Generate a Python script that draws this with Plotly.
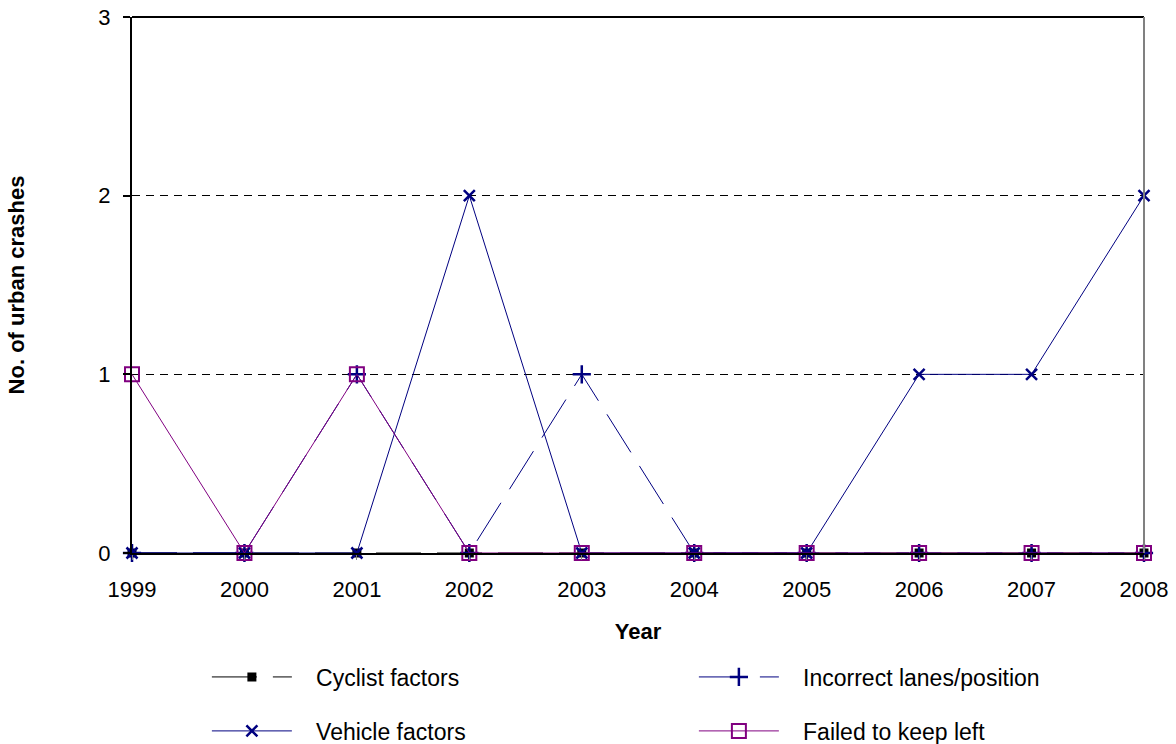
import plotly.graph_objects as go

years = [1999, 2000, 2001, 2002, 2003, 2004, 2005, 2006, 2007, 2008]
cyclist_factors = [0, 0, 0, 0, 0, 0, 0, 0, 0, 0]
incorrect_lanes = [0, 0, 1, 0, 1, 0, 0, 0, 0, 0]
vehicle_factors = [0, 0, 0, 2, 0, 0, 0, 1, 1, 2]
failed_keep_left = [1, 0, 1, 0, 0, 0, 0, 0, 0, 0]
y_ticks = [0, 1, 2, 3]

NAVY = "#000080"
PURPLE = "#800080"
FONT = "Liberation Sans, Arial, sans-serif"
PAD = "\u00a0\u00a0\u00a0"
DASH = "45px,16px"

fig = go.Figure()
fig.add_trace(go.Scatter(
    x=years, y=cyclist_factors, name=PAD + "Cyclist factors", mode="lines+markers",
    line=dict(color="black", width=1, dash=DASH),
    marker=dict(symbol="square", size=9, color="black"), cliponaxis=False,
    legend="legend"))
fig.add_trace(go.Scatter(
    x=years, y=incorrect_lanes, name=PAD + "Incorrect lanes/position", mode="lines+markers",
    line=dict(color=NAVY, width=1, dash=DASH),
    marker=dict(symbol="cross-thin-open", size=13, line=dict(color=NAVY, width=2.5)),
    cliponaxis=False, legend="legend"))
fig.add_trace(go.Scatter(
    x=years, y=vehicle_factors, name=PAD + "Vehicle factors", mode="lines+markers",
    line=dict(color=NAVY, width=1),
    marker=dict(symbol="x-thin-open", size=11, line=dict(color=NAVY, width=2.5)),
    cliponaxis=False, legend="legend2"))
fig.add_trace(go.Scatter(
    x=years, y=failed_keep_left, name=PAD + "Failed to keep left", mode="lines+markers",
    line=dict(color=PURPLE, width=1),
    marker=dict(symbol="square-open", size=14, line=dict(color=PURPLE, width=2)),
    cliponaxis=False, legend="legend2"))

legend_common = dict(
    orientation="h", x=0.074, xanchor="left", yanchor="middle",
    entrywidth=392, entrywidthmode="pixels", itemwidth=80,
    font=dict(family=FONT, size=23, color="black"),
    traceorder="normal", bgcolor="rgba(0,0,0,0)",
)

fig.update_layout(
    width=1176, height=744,
    margin=dict(l=132, r=32, t=17, b=191, autoexpand=False),
    paper_bgcolor="white", plot_bgcolor="white",
    font=dict(family=FONT, size=22, color="black"),
    showlegend=True,
    legend=dict(legend_common, y=-0.2313),
    legend2=dict(legend_common, y=-0.332),
    xaxis=dict(
        range=[1999, 2008], tickvals=years, ticktext=[str(y) for y in years],
        showgrid=False, zeroline=False, showline=True, linecolor="black", linewidth=2,
        ticks="outside", ticklen=5, tickcolor="#808080", tickwidth=1,
        ticklabelstandoff=11, automargin=False, ticklabeloverflow="allow",
        tickfont=dict(size=22),
        title=dict(text="<b>Year</b>", font=dict(size=22), standoff=22),
    ),
    yaxis=dict(
        range=[0, 3], tickvals=y_ticks,
        showgrid=True, gridcolor="black", gridwidth=1, griddash="8px,6px",
        zeroline=False, showline=True, linecolor="black", linewidth=2,
        ticks="outside", ticklen=7, tickcolor="black", tickwidth=2,
        ticklabelstandoff=8, automargin=False, ticklabeloverflow="allow",
        tickfont=dict(size=22),
        title=dict(text="<b>No. of urban crashes</b>", font=dict(size=22), standoff=68),
    ),
    shapes=[
        dict(type="line", xref="paper", yref="paper", x0=0, x1=1, y0=1, y1=1,
             line=dict(color="black", width=2)),
        dict(type="line", xref="paper", yref="paper", x0=1, x1=1, y0=0, y1=1,
             line=dict(color="#808080", width=2)),
    ],
)

fig.write_html(
    "out.html",
    config={"displayModeBar": False},
    post_script="document.body.style.margin='0';document.body.style.overflow='hidden';",
)
